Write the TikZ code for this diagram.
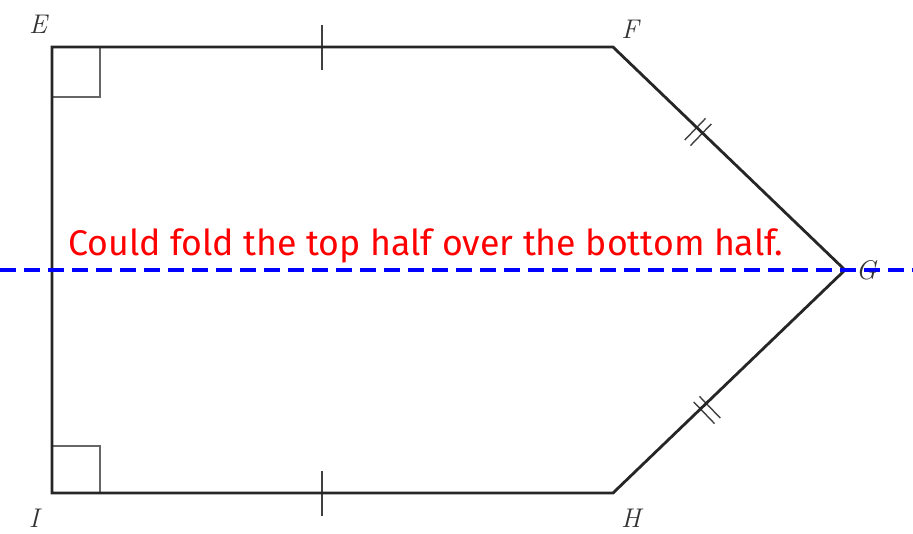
\documentclass[tikz,border=0pt]{standalone}
\usepackage{fontspec}
\usepackage{graphicx}
\newfontfamily\handfont{Fira Sans}
\tikzset{
  edge/.style={line width=2.8pt, line join=miter, black!85},
  rightmark/.style={line width=1.6pt, black!60},
  tick/.style={line width=1.4pt, black!75},
  fold/.style={line width=3.5pt, blue, dash pattern=on 16pt off 8pt},
  vlabel/.style={font=\fontsize{27}{27}\selectfont\itshape, text=black!80, inner sep=0pt}
}
\begin{document}
\begin{tikzpicture}[x=1pt,y=-1pt]
\useasboundingbox (0,0) rectangle (913,533);
\coordinate (E) at (52,47);
\coordinate (F) at (613,47);
\coordinate (G) at (845,270);
\coordinate (H) at (613,493);
\coordinate (I) at (52,493);
\coordinate (L) at (0,270);
\coordinate (R) at (913,270);
% right-angle marks
\draw[rightmark] (52,97) -- (100,97) -- (100,47);
\draw[rightmark] (52,446) -- (100,446) -- (100,493);
% single ticks
\draw[tick] (322,25) -- (322,70);
\draw[tick] (322,471) -- (322,516);
% double ticks
\begin{scope}[shift={(698,132)}, rotate=-43.9]
\draw[tick] (-4,-15) -- (-4,15);
\draw[tick] (4,-15) -- (4,15);
\end{scope}
\begin{scope}[shift={(707,410)}, rotate=43.9]
\draw[tick] (-4,-15) -- (-4,15);
\draw[tick] (4,-15) -- (4,15);
\end{scope}
% polygon
\draw[edge] (E) -- (F) -- (G) -- (H) -- (I) -- cycle;
% fold line
\draw[fold] (L) -- (R);
% labels
\node[vlabel] (lE) at (38,24) {E};
\node[vlabel] (lF) at (630,29) {F};
\node[vlabel] (lG) at (866,270) {G};
\node[vlabel] (lH) at (631,518) {H};
\node[vlabel] (lI) at (34,518) {I};
\node[anchor=base west, inner sep=0pt, text=red] (txt) at (68,255)
  {\resizebox{715pt}{!}{\handfont Could fold the top half over the bottom half.}};
\end{tikzpicture}
\end{document}
